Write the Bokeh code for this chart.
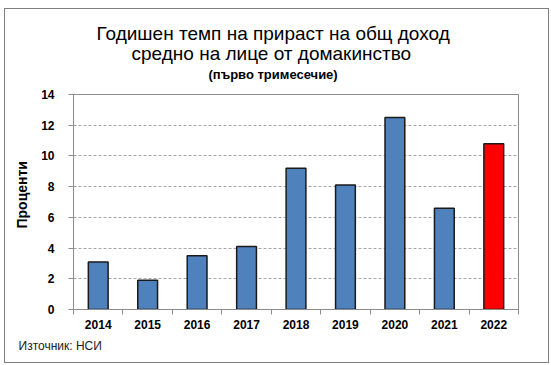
from bokeh.plotting import figure
from bokeh.models import Range1d, FixedTicker, Title, ColumnDataSource
from bokeh.embed import file_html
from bokeh.resources import INLINE

years = ["2014", "2015", "2016", "2017", "2018", "2019", "2020", "2021", "2022"]
values = [3.1, 1.9, 3.5, 4.1, 9.2, 8.1, 12.5, 6.6, 10.8]
bar_colors = ["#4F81BD"] * 8 + ["#FF0000"]
yticks = [0, 2, 4, 6, 8, 10, 12, 14]

title1 = "Годишен темп на прираст на общ доход"
title2 = "средно на лице от домакинство"
subtitle = "(първо тримесечие)"
ylabel = "Проценти"
source_text = "Източник: НСИ"

FONT = "Liberation Sans"
GRAY = "#8c8c8c"

xs = list(range(len(years)))
src = ColumnDataSource(dict(x=xs, top=values, color=bar_colors))

p = figure(width=545, height=355, output_backend="svg", toolbar_location=None,
           x_range=Range1d(-0.5, len(years) - 0.5), y_range=Range1d(yticks[0], yticks[-1]),
           min_border_left=68, min_border_right=32, min_border_top=85, min_border_bottom=55)
p.background_fill_color = "white"
p.border_fill_color = "white"
p.outline_line_color = GRAY
p.outline_line_width = 1
p.styles = {"border": "1px solid #7f7f7f", "box-sizing": "border-box",
            "margin-left": "4px", "margin-top": "8px"}
p.title.text = ""

p.vbar(x="x", top="top", width=0.4, fill_color="color", line_color="#1a1a1a",
       line_width=1.5, source=src)

# grid
p.xgrid.visible = False
p.ygrid.ticker = FixedTicker(ticks=yticks)
p.ygrid.grid_line_color = "#a6a6a6"
p.ygrid.grid_line_dash = "3 2"
p.ygrid.grid_line_width = 1

# y axis
p.yaxis.ticker = FixedTicker(ticks=yticks)
p.yaxis.axis_line_color = GRAY
p.yaxis.major_tick_line_color = GRAY
p.yaxis.major_tick_out = 5
p.yaxis.major_tick_in = 0
p.yaxis.minor_tick_line_color = None
p.yaxis.major_label_text_font = FONT
p.yaxis.major_label_text_font_style = "bold"
p.yaxis.major_label_text_font_size = "12px"
p.yaxis.major_label_text_color = "black"
p.yaxis.major_label_standoff = 14

# x axis
p.xaxis.ticker = FixedTicker(ticks=xs, minor_ticks=[i - 0.5 for i in range(len(years) + 1)])
p.xaxis.major_label_overrides = {i: y for i, y in zip(xs, years)}
p.xaxis.axis_line_color = GRAY
p.xaxis.major_tick_line_color = None
p.xaxis.major_tick_out = 0
p.xaxis.minor_tick_line_color = GRAY
p.xaxis.minor_tick_out = 5
p.xaxis.minor_tick_in = 0
p.xaxis.major_label_text_font = FONT
p.xaxis.major_label_text_font_style = "bold"
p.xaxis.major_label_text_font_size = "12px"
p.xaxis.major_label_text_color = "black"
p.xaxis.major_label_standoff = 5

# titles (added from the frame outward)
p.add_layout(Title(text=subtitle, align="left", offset=135, standoff=25,
                   text_font=FONT, text_font_size="13px", text_font_style="bold",
                   text_color="black"), "above")
p.add_layout(Title(text=title2, align="left", offset=58, standoff=-23,
                   text_font=FONT, text_font_size="19px", text_font_style="normal",
                   text_color="black"), "above")
p.add_layout(Title(text=title1, align="left", offset=23, standoff=18,
                   text_font=FONT, text_font_size="19px", text_font_style="normal",
                   text_color="black"), "above")

# y label as a left title
p.add_layout(Title(text=ylabel, align="left", offset=81, standoff=14, vertical_align="top",
                   text_font=FONT, text_font_size="14px", text_font_style="bold",
                   text_color="black"), "left")

# source
p.add_layout(Title(text=source_text, align="left", offset=-55, standoff=10,
                   text_font=FONT, text_font_size="12px", text_font_style="normal",
                   text_color="#222222"), "below")

open("out.html", "w").write(file_html(p, INLINE))
